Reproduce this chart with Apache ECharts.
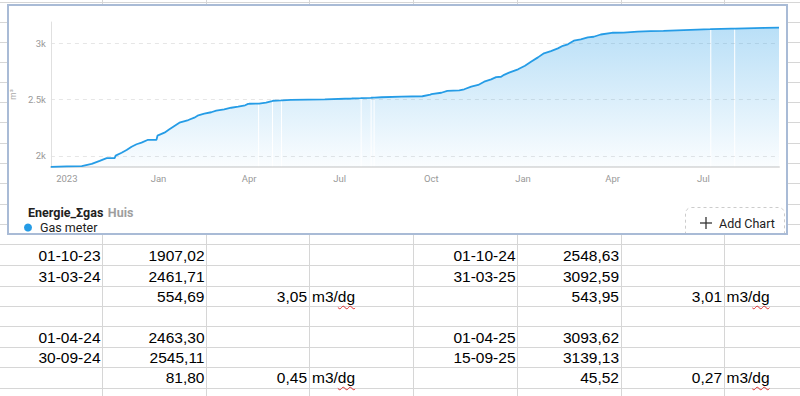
<!DOCTYPE html>
<html><head><meta charset="utf-8">
<script src="https://cdn.jsdelivr.net/npm/echarts@6/dist/echarts.min.js"></script>
<style>
html,body{margin:0;padding:0;background:#fff;width:800px;height:396px;overflow:hidden;}
#sheet{position:absolute;left:0;top:0;width:800px;height:396px;}
.vl{position:absolute;top:0;width:1px;height:396px;background:#d6d6d6;}
.hl{position:absolute;left:0;width:800px;height:1px;background:#d6d6d6;}
.c{position:absolute;font-family:"Liberation Sans",Arial,sans-serif;font-size:15.5px;line-height:20px;color:#000;white-space:nowrap;}
.sp{text-decoration:underline wavy #e03030;text-decoration-thickness:1px;text-underline-offset:3px;}
#chart{position:absolute;left:0;top:0;width:800px;height:396px;}
</style></head>
<body>
<div id="sheet"></div>
<div id="chart"></div>
<script>
// ---------------- chart data ----------------
const seriesName = 'Gas meter';
const readingDates = [
 '2023-09-15','2023-10-01','2023-10-16','2023-10-26','2023-11-03','2023-11-10','2023-11-18','2023-11-19',
 '2023-11-25','2023-11-30','2023-12-05','2023-12-10','2023-12-15','2023-12-21','2023-12-30','2023-12-31',
 '2024-01-07','2024-01-12','2024-01-17','2024-01-22','2024-01-31','2024-02-06','2024-02-10','2024-02-16',
 '2024-02-23','2024-02-28','2024-03-07','2024-03-14','2024-03-21','2024-03-28','2024-03-31','2024-04-01',
 '2024-04-10','2024-04-10 12:00','2024-04-11','2024-04-18','2024-04-24','2024-04-24 12:00','2024-04-25','2024-05-03',
 '2024-05-03 12:00','2024-05-04','2024-05-13','2024-06-16','2024-07-13','2024-07-22','2024-07-22 12:00','2024-07-23',
 '2024-08-01','2024-08-01 12:00','2024-08-02','2024-08-04','2024-08-04 12:00','2024-08-05','2024-08-12','2024-09-01',
 '2024-09-22','2024-09-30','2024-10-01','2024-10-11','2024-10-17','2024-10-29','2024-11-03','2024-11-10',
 '2024-11-17','2024-11-23','2024-11-30','2024-12-05','2024-12-10','2024-12-13','2024-12-18','2024-12-27',
 '2025-01-03','2025-01-09','2025-01-16','2025-01-22','2025-01-29','2025-02-05','2025-02-10','2025-02-15',
 '2025-02-21','2025-02-28','2025-03-07','2025-03-13','2025-03-20','2025-03-31','2025-04-01','2025-04-12',
 '2025-04-26','2025-05-09','2025-05-22','2025-06-25','2025-07-08','2025-07-08 12:00','2025-07-09','2025-07-29',
 '2025-08-01','2025-08-01 12:00','2025-08-02','2025-08-31','2025-09-15'
];
// null = missing reading (gap in the filled area)
const readingValues = [
 1903,1907.02,1909,1929,1956,1980,1981,2003,
 2029,2053,2082,2104,2118,2142,2143,2180,
 2207,2237,2266,2295,2319,2340,2361,2375,
 2388,2402,2414,2428,2437,2450,2461.71,2463.30,
 2464,null,2464.5,2473,2487,null,2490,2493,
 null,2494,2497,2503,2510,2513,null,2514,
 2516,null,2516.5,2517,null,2517.5,2521,2526,
 2530,2545.11,2548.63,2561,2577,2583,2592,2615,
 2630,2659,2680,2700,2703,2720,2739,2769,
 2801,2836,2875,2911,2931,2955,2978,2991,
 3023,3035,3053,3058,3078,3092.59,3093.62,3095,
 3103,3108,3111,3121,3125,null,3125.5,3129.5,
 3130,null,3130.5,3136,3139.13
];
const xTickDates = ['2023-10-01','2024-01-01','2024-04-01','2024-07-01','2024-10-01','2025-01-01','2025-04-01','2025-07-01'];
const xTickLabels = ['2023','Jan','Apr','Jul','Oct','Jan','Apr','Jul'];
const yMin = 1902, yMax = 3189;
const yAxisName = 'm³';
const titleMain = 'Energie_Σgas', titleSub = 'Huis';

// ---------------- spreadsheet cells ----------------
const tableDatesA  = ['01-10-23','31-03-24','','','01-04-24','30-09-24',''];
const tableValuesA = ['1907,02','2461,71','554,69','','2463,30','2545,11','81,80'];
const tableRatesA  = ['','','3,05','','','','0,45'];
const tableDatesB  = ['01-10-24','31-03-25','','','01-04-25','15-09-25',''];
const tableValuesB = ['2548,63','3092,59','543,95','','3093,62','3139,13','45,52'];
const tableRatesB  = ['','','3,01','','','','0,27'];
const rateUnit = ['m3/','dg'];

// ---------------- spreadsheet drawing ----------------
const sheet = document.getElementById('sheet');
[102,206,309,413,517,621,724].forEach(x=>{const d=document.createElement('div');d.className='vl';d.style.left=x+'px';sheet.appendChild(d);});
[2,22,42,62,82,102,122,143,163,183,204,224,244,265,286,306,326,347,367,388].forEach(y=>{const d=document.createElement('div');d.className='hl';d.style.top=y+'px';sheet.appendChild(d);});
const rowCenters=[255.5,276.5,297,317,337.5,358,378];
function cellR(txt,xEnd,yc){ if(!txt) return; const d=document.createElement('div');d.className='c';d.style.right=(800-xEnd)+'px';d.style.top=(yc-10)+'px';d.textContent=txt;sheet.appendChild(d);}
function cellUnit(xStart,yc){ const d=document.createElement('div');d.className='c';d.style.left=xStart+'px';d.style.top=(yc-10)+'px';d.innerHTML=rateUnit[0]+'<span class="sp">'+rateUnit[1]+'</span>';sheet.appendChild(d);}
rowCenters.forEach((yc,i)=>{
  cellR(tableDatesA[i],100.5,yc); cellR(tableValuesA[i],204.5,yc); cellR(tableRatesA[i],307,yc);
  if(tableRatesA[i]) cellUnit(312,yc);
  cellR(tableDatesB[i],515.5,yc); cellR(tableValuesB[i],619,yc); cellR(tableRatesB[i],722,yc);
  if(tableRatesB[i]) cellUnit(726.5,yc);
});

// ---------------- chart ----------------
function toTs(s){
  const parts=s.split(' '); const p=parts[0].split('-').map(Number);
  const t=(parts[1]||'00:00').split(':').map(Number);
  return new Date(p[0],p[1]-1,p[2],t[0],t[1]).getTime();
}
const seriesData = readingDates.map((d,i)=>[toTs(d), readingValues[i]===null?'-':readingValues[i]]);
const xTickTs = xTickDates.map(toTs);
const lineColor = '#259ce6';
const chart = echarts.init(document.getElementById('chart'), null, {renderer:'svg'});
chart.setOption({
  animation:false,
  backgroundColor:'transparent',
  textStyle:{fontFamily:'Roboto'},
  graphic:[
    {type:'rect', z:0, shape:{x:8,y:5,width:779,height:229}, style:{fill:'#ffffff'}},
    {type:'rect', z:50, shape:{x:685.5,y:207.5,width:99,height:27,r:[6,6,0,0]}, style:{fill:'#ffffff',stroke:'#cccccc',lineWidth:1,lineDash:[3,3]}},
    {type:'line', z:51, shape:{x1:700,y1:223,x2:712,y2:223}, style:{stroke:'#333333',lineWidth:1.3}},
    {type:'line', z:51, shape:{x1:706,y1:217,x2:706,y2:229}, style:{stroke:'#333333',lineWidth:1.3}},
    {type:'text', z:51, x:719, y:223, style:{text:'Add Chart', fontSize:12.5, fontFamily:'Roboto', fill:'#212121', verticalAlign:'middle', align:'left'}},
    {type:'rect', z:100, shape:{x:8,y:5,width:779,height:229}, style:{fill:null,stroke:'#a9bbd6',lineWidth:2}}
  ],
  title:{left:28, top:203, padding:0, text:'{b|'+titleMain+'} {g|'+titleSub+'}',
    textStyle:{rich:{b:{fontSize:12.5,fontWeight:'bold',color:'#212121',fontFamily:'Roboto'},g:{fontSize:12.5,color:'#9e9e9e',fontFamily:'Roboto'}}}},
  legend:{left:24, top:221, padding:0, icon:'circle', itemWidth:14, itemHeight:8, data:[seriesName],
    textStyle:{fontSize:12.5,color:'#212121',fontFamily:'Roboto'}},
  grid:{left:49, right:21, top:22, bottom:229, containLabel:false},
  xAxis:{type:'value', min:toTs(readingDates[0]), max:toTs(readingDates[readingDates.length-1]),
    axisLine:{show:true, lineStyle:{color:'#e0e0e0',width:2}},
    axisTick:{show:false, customValues:xTickTs},
    axisLabel:{customValues:xTickTs, color:'#999999', fontSize:9.5, margin:6, fontFamily:'Roboto', showMinLabel:true, showMaxLabel:true,
      formatter:function(v){const i=xTickTs.indexOf(v);return i>=0?xTickLabels[i]:'';}},
    splitLine:{show:false}},
  yAxis:{type:'value', min:yMin, max:yMax, splitNumber:3, name:yAxisName, nameLocation:'middle', nameGap:31,
    nameTextStyle:{fontSize:8.5,color:'#aaaaaa',fontFamily:'Roboto'},
    axisLine:{show:true, lineStyle:{color:'#e0e0e0',width:1}}, axisTick:{show:false},
    axisLabel:{showMinLabel:false, showMaxLabel:false, color:'#999999', fontSize:9.5, margin:5, fontFamily:'Roboto',
      formatter:function(v){return (v/1000)+'k';}},
    splitLine:{show:true, showMinLine:false, showMaxLine:false, lineStyle:{type:[4,4], color:'#e6e6e6', width:1}}},
  series:[
    {name:seriesName, type:'line', data:seriesData, connectNulls:false, showSymbol:false, symbol:'none', silent:true, z:2,
      lineStyle:{width:0}, itemStyle:{color:lineColor},
      areaStyle:{opacity:1, color:new echarts.graphic.LinearGradient(0,0,0,1,[{offset:0,color:'rgba(37,156,230,0.32)'},{offset:1,color:'rgba(37,156,230,0.02)'}])}},
    {name:seriesName, type:'line', data:seriesData, connectNulls:true, showSymbol:false, symbol:'none', z:3,
      lineStyle:{width:1.8,color:lineColor}, itemStyle:{color:lineColor}}
  ]
});
</script>
</body></html>
